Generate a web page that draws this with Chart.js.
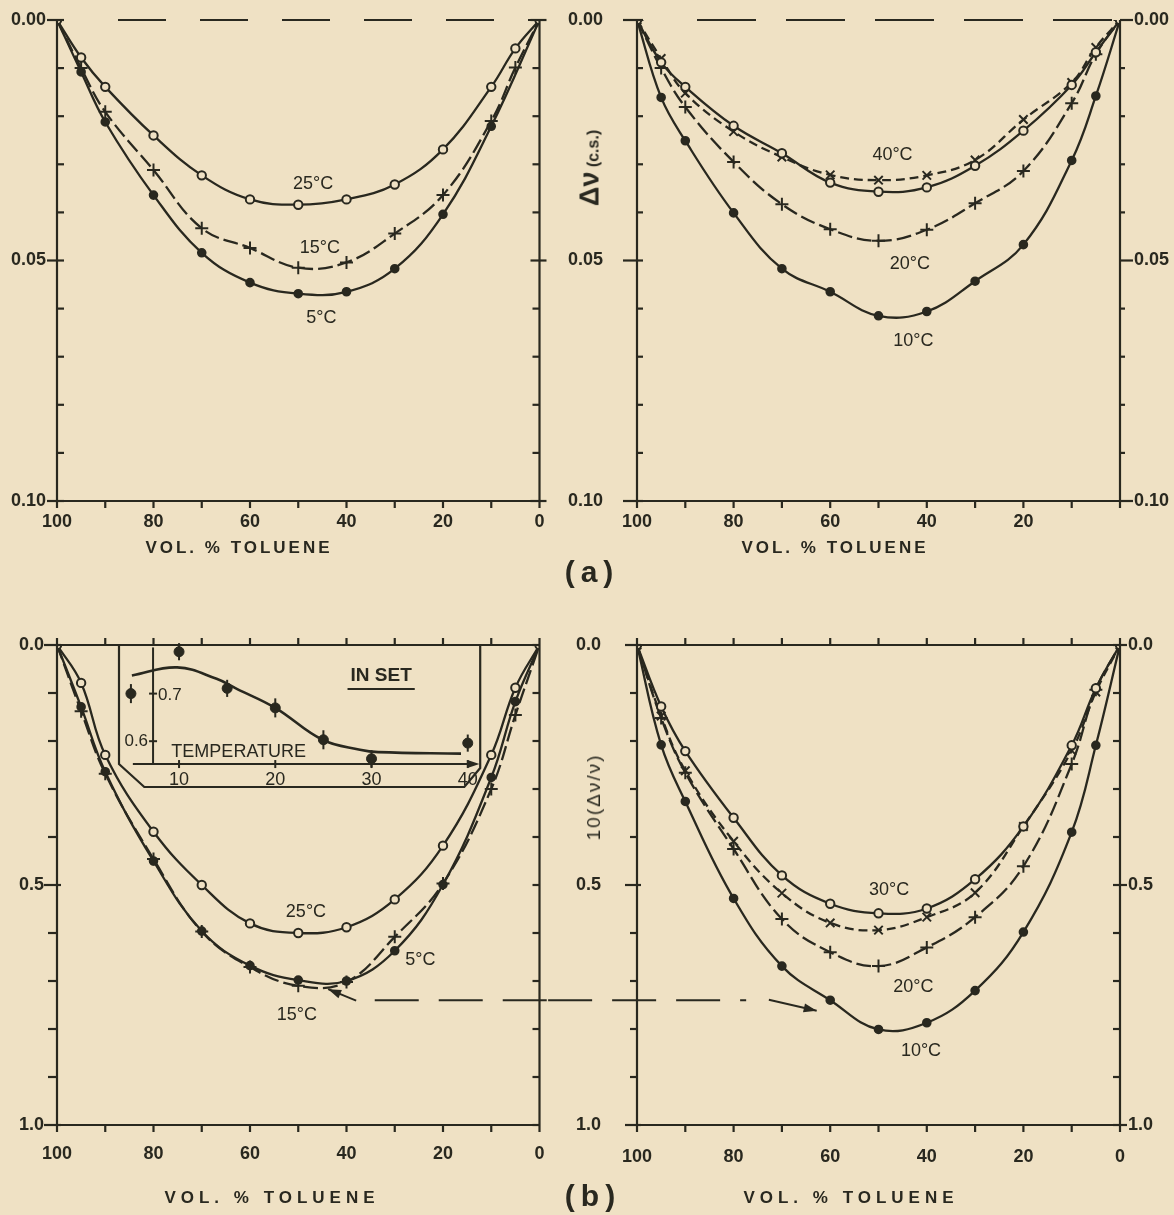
<!DOCTYPE html>
<html>
<head>
<meta charset="utf-8">
<script src="https://cdn.jsdelivr.net/npm/chart.js@4.4.1/dist/chart.umd.min.js"></script>
<style>
  body { margin: 0; background: #efe1c4; }
  #page { position: relative; width: 1174px; height: 1215px; overflow: hidden; background: #efe1c4; }
  canvas { position: absolute; }
  .t { position: absolute; color: #29281f; font-family: 'Liberation Sans', Arial, sans-serif; white-space: nowrap;
       transform: translate(-50%, -50%); }
  .xt { font-size: 17px; font-weight: bold; letter-spacing: 3px; }
  .cap { font-size: 30px; font-weight: bold; letter-spacing: 6px; }
  .yt { transform: translate(-50%, -50%) rotate(-90deg); font-weight: bold; }
</style>
</head>
<body>
<div id="page">
  <canvas id="tl" width="548" height="560" style="left:0;top:0;width:548px;height:560px"></canvas>
  <canvas id="tr" width="626" height="560" style="left:548px;top:0;width:626px;height:560px"></canvas>
  <canvas id="bl" width="548" height="615" style="left:0;top:600px;width:548px;height:615px"></canvas>
  <canvas id="br" width="626" height="615" style="left:548px;top:600px;width:626px;height:615px"></canvas>
  <canvas id="inset" width="400" height="160" style="left:100px;top:640px;width:400px;height:160px"></canvas>

  <div class="t xt" style="left:239px;top:548px">VOL. % TOLUENE</div>
  <div class="t xt" style="left:835px;top:548px">VOL. % TOLUENE</div>
  <div class="t xt" style="left:272px;top:1198px;letter-spacing:5px">VOL. % TOLUENE</div>
  <div class="t xt" style="left:851px;top:1198px;letter-spacing:5px">VOL. % TOLUENE</div>
  <div class="t cap" style="left:592px;top:572px">(a)</div>
  <div class="t cap" style="left:593px;top:1196px">(b)</div>
  <div class="t yt" style="left:590px;top:168px"><span style="font-size:27px">Δν</span> <span style="font-size:16px">(c.s.)</span></div>
  <div class="t yt" style="left:594px;top:797px;font-size:19px;font-weight:normal;letter-spacing:2px">10(Δν/ν)</div>
</div>

<script>
	const INK = '#29281f';
	const PAPER = '#efe1c4';
	const FONT = "'Liberation Sans', Arial, sans-serif";

	// vol. % toluene (x of every curve)
	const toluene = [100, 95, 90, 80, 70, 60, 50, 40, 30, 20, 10, 5, 0];

	// (a) viscosity deviation, c.s.
	const a25C = [0, 0.0078, 0.0139, 0.0240, 0.0323, 0.0373, 0.0384, 0.0373, 0.0342, 0.0269, 0.0139, 0.0059, 0];
	const a15C = [0, 0.0100, 0.0191, 0.0312, 0.0433, 0.0474, 0.0515, 0.0504, 0.0444, 0.0364, 0.0210, 0.0099, 0];
	const a5C  = [0, 0.0108, 0.0212, 0.0364, 0.0484, 0.0546, 0.0569, 0.0565, 0.0517, 0.0404, 0.0221, null, 0];
	const a40C = [0, 0.0080, 0.0152, 0.0232, 0.0285, 0.0322, 0.0333, 0.0323, 0.0291, 0.0207, 0.0130, 0.0057, 0];
	const aOpen = [0, 0.0088, 0.0139, 0.0220, 0.0277, 0.0338, 0.0357, 0.0348, 0.0303, 0.0230, 0.0135, 0.0067, 0];
	const a20C = [0, 0.0100, 0.0181, 0.0295, 0.0383, 0.0435, 0.0459, 0.0436, 0.0381, 0.0314, 0.0173, 0.0071, 0];
	const a10C = [0, 0.0161, 0.0251, 0.0401, 0.0517, 0.0565, 0.0615, 0.0606, 0.0543, 0.0467, 0.0292, 0.0158, 0];

	// (b) 10(Δν/ν)
	const b25C = [0, 0.079, 0.229, 0.389, 0.500, 0.580, 0.600, 0.588, 0.530, 0.418, 0.229, 0.089, 0];
	const b15C = [0, 0.138, 0.268, 0.446, 0.597, 0.671, 0.710, 0.702, 0.608, 0.497, 0.300, 0.146, 0];
	const b5C  = [0, 0.129, 0.264, 0.450, 0.596, 0.668, 0.698, 0.700, 0.637, 0.499, 0.276, 0.118, 0];
	const b30C = [0, 0.128, 0.221, 0.360, 0.480, 0.539, 0.559, 0.549, 0.488, 0.378, 0.209, 0.090, 0];
	const bCross = [0, 0.148, 0.262, 0.409, 0.517, 0.579, 0.594, 0.567, 0.516, 0.378, 0.220, 0.098, 0];
	const b20C = [0, 0.152, 0.266, 0.425, 0.571, 0.640, 0.669, 0.630, 0.567, 0.461, 0.248, 0.093, 0];
	const b10C = [0, 0.208, 0.326, 0.528, 0.669, 0.740, 0.801, 0.787, 0.720, 0.598, 0.390, 0.209, 0];

	// inset: 10(Δν/ν) at 50 % vs temperature
	const insetTemp = [5, 10, 15, 20, 25, 30, 40];
	const insetVal = [0.700, 0.788, 0.711, 0.670, 0.603, 0.563, 0.596];
	const insetErr = [0.020, 0.018, 0.018, 0.020, 0.020, 0.018, 0.018];
	const insetCurveT = [5.1, 9.8, 13.9, 16, 20, 24.9, 28.8, 30.7, 39.3];
	const insetCurveV = [0.738, 0.755, 0.731, 0.71, 0.67, 0.603, 0.582, 0.577, 0.574];

	// tick labels
	const xLabels = [100, 80, 60, 40, 20, 0];
	const xLabelsNoZero = [100, 80, 60, 40, 20];
	const insetXLabels = [10, 20, 30, 40];
	const insetYLabels = [0.6, 0.7];

	const isMult = (v, m) => Math.abs(v / m - Math.round(v / m)) < 1e-6;

	// fixed axis box, no extra label padding pushed into the layout
	const fixBox = (s, w, h) => {
		if (w !== null) s.width = w;
		if (h !== null) s.height = h;
		s.paddingTop = 0; s.paddingBottom = 0; s.paddingLeft = 0; s.paddingRight = 0;
	};

	// frame, inward/outward ticks and the dashed zero line
	const framePlugin = {
		id: 'frame',
		afterDraw(chart, args, o) {
			if (!o || !o.on) return;
			const {ctx, chartArea: a} = chart;
			const x = chart.scales.x, y = chart.scales.y;
			const seg = (x1, y1, x2, y2) => { ctx.beginPath(); ctx.moveTo(x1, y1); ctx.lineTo(x2, y2); ctx.stroke(); };
			ctx.save();
			ctx.strokeStyle = INK;
			ctx.lineWidth = 2.2;
			seg(a.left, a.top, a.left, a.bottom);
			seg(a.right, a.top, a.right, a.bottom);
			seg(a.left, a.bottom, a.right, a.bottom);
			if (o.topDash) {
				ctx.setLineDash(o.topDash);
				seg(a.left + o.dashStart, a.top, a.right, a.top);
				ctx.setLineDash([]);
			} else {
				seg(a.left, a.top, a.right, a.top);
			}
			y.ticks.forEach(t => {
				const py = y.getPixelForValue(t.value);
				const M = isMult(t.value, o.yMajor);
				const L = o.left, R = o.right;
				seg(a.left - (M ? L.outMajor : L.out), py, a.left + (M ? L.inMajor : L.in), py);
				seg(a.right - (M ? R.inMajor : R.in), py, a.right + (M ? R.outMajor : R.out), py);
			});
			x.ticks.forEach(t => {
				const px = x.getPixelForValue(t.value);
				seg(px, a.bottom, px, a.bottom + 7);
				if (o.topTicks) seg(px, a.top - o.topTicks, px, a.top);
			});
			ctx.restore();
		}
	};

	// temperature labels written next to the curves
	const labelPlugin = {
		id: 'curveLabels',
		afterDatasetsDraw(chart, args, o) {
			if (!o || !o.items) return;
			const {ctx} = chart;
			ctx.save();
			ctx.fillStyle = INK;
			ctx.font = '18px ' + FONT;
			ctx.textAlign = 'center';
			ctx.textBaseline = 'middle';
			o.items.forEach(it => {
				ctx.fillText(it.text, chart.scales.x.getPixelForValue(it.x), chart.scales.y.getPixelForValue(it.y));
			});
			ctx.restore();
		}
	};

	// arrow heads on the guide lines
	const arrowPlugin = {
		id: 'arrowHeads',
		afterDatasetsDraw(chart) {
			const {ctx} = chart;
			chart.data.datasets.forEach((ds, i) => {
				if (!ds.arrow) return;
				const pts = chart.getDatasetMeta(i).data;
				const p = pts[pts.length - 1], q = pts[pts.length - 2];
				const ang = Math.atan2(p.y - q.y, p.x - q.x);
				ctx.save();
				ctx.fillStyle = INK;
				ctx.translate(p.x, p.y);
				ctx.rotate(ang);
				ctx.beginPath();
				ctx.moveTo(0, 0);
				ctx.lineTo(-13, -4.5);
				ctx.lineTo(-13, 4.5);
				ctx.closePath();
				ctx.fill();
				ctx.restore();
			});
		}
	};

	Chart.register(framePlugin, labelPlugin, arrowPlugin);

	function series(values, kind) {
		const ds = {
			data: toluene.map((x, i) => ({x, y: values[i]})).filter(p => p.y !== null),
			showLine: true, borderColor: INK, borderWidth: 2.3, tension: 0.4,
			pointBorderColor: INK, pointBorderWidth: 2, pointHoverRadius: 0
		};
		if (kind === 'open') Object.assign(ds, {pointStyle: 'circle', pointRadius: 4.2, pointBackgroundColor: PAPER});
		if (kind === 'filled') Object.assign(ds, {pointStyle: 'circle', pointRadius: 3.8, pointBackgroundColor: INK});
		if (kind === 'plus') Object.assign(ds, {pointStyle: 'cross', pointRadius: 6.5, borderDash: [15, 5]});
		if (kind === 'cross') Object.assign(ds, {pointStyle: 'crossRot', pointRadius: 6, borderDash: [9, 5]});
		return ds;
	}

	function guide(points, dash, arrow) {
		return {
			data: points, showLine: true, borderColor: INK, borderWidth: 2, tension: 0,
			pointRadius: 0, borderDash: dash, clip: false, arrow: arrow
		};
	}

	function panel(id, p) {
		const tickFont = {family: FONT, size: 18, weight: 'bold'};
		const yLabel = v => isMult(v, p.yMajor) ? v.toFixed(p.digits) : '';
		return new Chart(document.getElementById(id), {
			type: 'scatter',
			data: {datasets: p.datasets},
			options: {
				responsive: false,
				animation: false,
				events: [],
				layout: {padding: {top: p.top, left: 0, right: 0, bottom: 0}},
				plugins: {
					legend: {display: false},
					tooltip: {enabled: false},
					frame: p.frame,
					curveLabels: {items: p.labels}
				},
				scales: {
					x: {
						type: 'linear', position: 'bottom', reverse: true, min: 0, max: 100,
						grid: {display: false, drawTicks: false}, border: {display: false},
						ticks: {stepSize: 10, autoSkip: false, maxRotation: 0, padding: p.xPad, color: INK, font: tickFont,
							callback: v => p.xLabels.includes(v) ? String(v) : ''},
						afterFit: s => fixBox(s, null, p.xHeight)
					},
					y: {
						type: 'linear', position: 'left', reverse: true, min: 0, max: p.yMax,
						grid: {display: false, drawTicks: false}, border: {display: false},
						ticks: {stepSize: p.yStep, autoSkip: false, padding: p.leftPad, color: INK, font: tickFont, callback: yLabel},
						afterFit: s => fixBox(s, p.leftW, null)
					},
					y2: {
						type: 'linear', position: 'right', reverse: true, min: 0, max: p.yMax,
						grid: {display: false, drawTicks: false}, border: {display: false},
						ticks: {display: p.rightLabels, stepSize: p.yStep, autoSkip: false, padding: p.rightPad, color: INK, font: tickFont, callback: yLabel},
						afterFit: s => fixBox(s, p.rightW, null)
					}
				}
			}
		});
	}

	// ---------- (a) ----------
	panel('tl', {
		datasets: [series(a25C, 'open'), series(a15C, 'plus'), series(a5C, 'filled')],
		top: 20, xHeight: 59, leftW: 57, rightW: 7, leftPad: 11, rightPad: 10, xPad: 10,
		yMax: 0.1, yStep: 0.01, yMajor: 0.05, digits: 2, xLabels: xLabels, rightLabels: false,
		frame: {on: true, yMajor: 0.05, topDash: [48, 34], dashStart: 61,
			left: {in: 7, out: 0, inMajor: 7, outMajor: 10}, right: {in: 7, out: 0, inMajor: 9, outMajor: 7}},
		labels: [{x: 46.9, y: 0.0340, text: '25°C'}, {x: 45.5, y: 0.0474, text: '15°C'}, {x: 45.2, y: 0.0620, text: '5°C'}]
	});

	panel('tr', {
		datasets: [series(aOpen, 'open'), series(a40C, 'cross'), series(a20C, 'plus'), series(a10C, 'filled')],
		top: 20, xHeight: 59, leftW: 89, rightW: 54, leftPad: 34, rightPad: 14, xPad: 10,
		yMax: 0.1, yStep: 0.01, yMajor: 0.05, digits: 2, xLabels: xLabelsNoZero, rightLabels: true,
		frame: {on: true, yMajor: 0.05, topDash: [59, 30], dashStart: 60,
			left: {in: 6, out: 0, inMajor: 6, outMajor: 14}, right: {in: 0, out: 5, inMajor: 0, outMajor: 13}},
		labels: [{x: 47.1, y: 0.0281, text: '40°C'}, {x: 43.5, y: 0.0507, text: '20°C'}, {x: 42.8, y: 0.0667, text: '10°C'}]
	});

	// ---------- (b) ----------
	panel('bl', {
		datasets: [series(b25C, 'open'), series(b15C, 'plus'), series(b5C, 'filled'),
			guide([{x: -1.5, y: 0.74}, {x: 35.4, y: 0.74}], [44, 20], false),
			guide([{x: 38, y: 0.741}, {x: 43.8, y: 0.717}], [], true)],
		top: 45, xHeight: 90, leftW: 57, rightW: 7, leftPad: 13, rightPad: 10, xPad: 18,
		yMax: 1.0, yStep: 0.1, yMajor: 0.5, digits: 1, xLabels: xLabels, rightLabels: false,
		frame: {on: true, yMajor: 0.5, topTicks: 7,
			left: {in: 0, out: 9, inMajor: 4, outMajor: 13}, right: {in: 7, out: 0, inMajor: 7, outMajor: 0}},
		labels: [{x: 48.4, y: 0.557, text: '25°C'}, {x: 24.7, y: 0.657, text: '5°C'}, {x: 50.3, y: 0.770, text: '15°C'}]
	});

	panel('br', {
		datasets: [series(b30C, 'open'), series(bCross, 'cross'), series(b20C, 'plus'), series(b10C, 'filled'),
			guide([{x: 118.4, y: 0.74}, {x: 77.4, y: 0.74}], [44, 20], false),
			guide([{x: 72.7, y: 0.739}, {x: 62.8, y: 0.762}], [], true)],
		top: 45, xHeight: 90, leftW: 89, rightW: 54, leftPad: 36, rightPad: 8, xPad: 21,
		yMax: 1.0, yStep: 0.1, yMajor: 0.5, digits: 1, xLabels: xLabels, rightLabels: true,
		frame: {on: true, yMajor: 0.5, topTicks: 7,
			left: {in: 0, out: 7, inMajor: 4, outMajor: 12}, right: {in: 7, out: 0, inMajor: 7, outMajor: 7}},
		labels: [{x: 47.8, y: 0.511, text: '30°C'}, {x: 42.8, y: 0.713, text: '20°C'}, {x: 41.2, y: 0.845, text: '10°C'}]
	});

	// ---------- inset ----------
	const insetDeco = {
		id: 'insetDeco',
		beforeDatasetsDraw(chart, args, o) {
			if (!o || !o.on) return;
			const {ctx} = chart;
			const X = v => chart.scales.x.getPixelForValue(v), Y = v => chart.scales.y.getPixelForValue(v);
			const seg = (x1, y1, x2, y2) => { ctx.beginPath(); ctx.moveTo(x1, y1); ctx.lineTo(x2, y2); ctx.stroke(); };
			ctx.save();
			ctx.strokeStyle = INK;
			ctx.fillStyle = INK;
			ctx.lineWidth = 2.2;
			// box with cut corners (canvas px)
			ctx.beginPath();
			o.box.forEach(([bx, by], i) => i ? ctx.lineTo(bx, by) : ctx.moveTo(bx, by));
			ctx.stroke();
			// axes
			ctx.lineWidth = 2;
			seg(X(o.yAxisAt), Y(0.797), X(o.yAxisAt), Y(o.xAxisAt));
			seg(X(5.2), Y(o.xAxisAt), X(40.8), Y(o.xAxisAt));
			ctx.beginPath();
			ctx.moveTo(X(40.8) + 4, Y(o.xAxisAt));
			ctx.lineTo(X(40.8) - 8, Y(o.xAxisAt) - 4);
			ctx.lineTo(X(40.8) - 8, Y(o.xAxisAt) + 4);
			ctx.closePath();
			ctx.fill();
			insetXLabels.forEach(t => seg(X(t), Y(o.xAxisAt) - 4, X(t), Y(o.xAxisAt) + 4));
			insetYLabels.forEach(v => seg(X(o.yAxisAt) - 4, Y(v), X(o.yAxisAt) + 4, Y(v)));
			// error bars
			insetTemp.forEach((t, i) => seg(X(t), Y(insetVal[i] - insetErr[i]), X(t), Y(insetVal[i] + insetErr[i])));
			// texts
			ctx.font = '17px ' + FONT;
			ctx.textBaseline = 'middle';
			ctx.textAlign = 'left';
			ctx.fillText('0.7', X(o.yAxisAt) + 5, Y(0.7) + 2);
			ctx.textAlign = 'right';
			ctx.fillText('0.6', X(o.yAxisAt) - 5, Y(0.6));
			ctx.textAlign = 'center';
			ctx.font = '18px ' + FONT;
			ctx.fillText('TEMPERATURE', X(16.2), Y(0.577));
			ctx.font = 'bold 19px ' + FONT;
			ctx.fillText('IN SET', X(31.0), Y(0.737));
			const w = ctx.measureText('IN SET').width;
			seg(X(31.0) - w / 2 - 3, Y(0.737) + 13, X(31.0) + w / 2 + 3, Y(0.737) + 13);
			ctx.restore();
		}
	};

	new Chart(document.getElementById('inset'), {
		type: 'scatter',
		data: {
			datasets: [
				{data: insetCurveT.map((t, i) => ({x: t, y: insetCurveV[i]})), showLine: true, tension: 0.4,
					borderColor: INK, borderWidth: 2.6, pointRadius: 0},
				{data: insetTemp.map((t, i) => ({x: t, y: insetVal[i]})), showLine: false,
					pointStyle: 'circle', pointRadius: 5, pointBackgroundColor: INK, pointBorderColor: INK}
			]
		},
		plugins: [insetDeco],
		options: {
			responsive: false,
			animation: false,
			events: [],
			layout: {padding: {top: 3.4, left: 21.3, right: 13, bottom: 0}},
			plugins: {
				legend: {display: false}, tooltip: {enabled: false},
				insetDeco: {on: true, yAxisAt: 7.3, xAxisAt: 0.552,
					box: [[19, 5], [19, 124], [44.3, 147], [364.3, 147], [380.2, 128], [380.2, 5]]}
			},
			scales: {
				x: {
					type: 'linear', min: 4, max: 42,
					grid: {display: false, drawTicks: false}, border: {display: false},
					ticks: {padding: 4, color: INK, font: {family: FONT, size: 18}, autoSkip: false, maxRotation: 0,
						callback: v => insetXLabels.includes(v) ? String(v) : ''},
					afterBuildTicks: s => { s.ticks = insetXLabels.map(v => ({value: v})); },
					afterFit: s => fixBox(s, null, 35)
				},
				y: {type: 'linear', display: false, min: 0.55, max: 0.8}
			}
		}
	});
</script>
</body>
</html>
